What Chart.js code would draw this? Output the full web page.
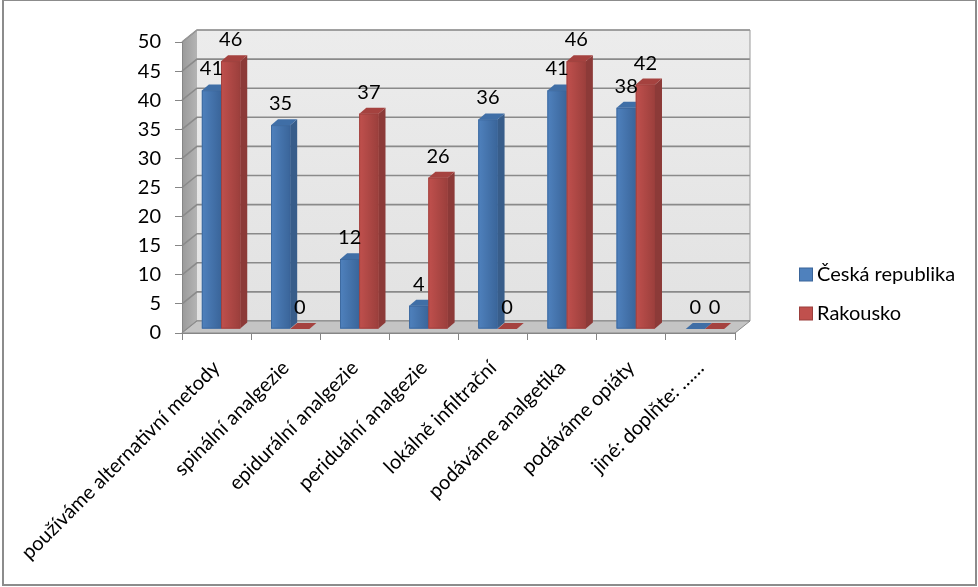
<!DOCTYPE html>
<html>
<head>
<meta charset="utf-8">
<script src="https://cdn.jsdelivr.net/npm/chart.js@4.4.0/dist/chart.umd.min.js"></script>
<style>
  html, body { margin: 0; padding: 0; background: #fff; }
  #wrap { width: 978px; height: 587px; }
</style>
</head>
<body>
<div id="wrap"><canvas id="chart" width="978" height="587"></canvas></div>
<script>
const categories = [
  "používáme alternativní metody",
  "spinální analgezie",
  "epidurální analgezie",
  "periduální analgezie",
  "lokálně infiltrační",
  "podáváme analgetika",
  "podáváme opiáty",
  "jiné: doplňte: ……",
];
const seriesNames = ["Česká republika", "Rakousko"];
const czValues = [41, 35, 12, 4, 36, 41, 38, 0];
const atValues = [46, 0, 37, 26, 0, 46, 42, 0];
const yMax = 50;
const yStep = 5;

const FONT = "Lato, 'Open Sans', sans-serif";
const FONT_SIZE = 20;

// 3D look: wall depth and bar depth (pixels)
const WALL_DX = 15, WALL_DY = -12;
const BAR_SHIFT_X = 4.5, BAR_SHIFT_Y = -4;
const BAR_DX = 7, BAR_DY = -6;

const faceColors = [
  { front: "#4f81bd", side: "#385d8a", top: "#3f6ea6", edge: "#3a659a" },
  { front: "#c0504d", side: "#8c3a38", top: "#a5423f", edge: "#9b3f3c" },
];

// walls, floor and back gridlines
const wallsPlugin = {
  id: "walls",
  beforeDraw(chart) {
    const ctx = chart.ctx;
    const { left, right, top, bottom } = chart.chartArea;
    const yScale = chart.scales.y;

    ctx.save();
    ctx.fillStyle = "#fff";
    ctx.fillRect(0, 0, chart.width, chart.height);

    // back wall
    const g = ctx.createLinearGradient(0, top + WALL_DY, 0, bottom + WALL_DY);
    g.addColorStop(0, "#ececec");
    g.addColorStop(1, "#e2e2e2");
    ctx.fillStyle = g;
    ctx.fillRect(left + WALL_DX, top + WALL_DY, right - left, bottom - top);

    // side wall
    const sg = ctx.createLinearGradient(left, 0, left + WALL_DX, 0);
    sg.addColorStop(0, "#9a9a9a");
    sg.addColorStop(1, "#b4b4b4");
    ctx.fillStyle = sg;
    ctx.beginPath();
    ctx.moveTo(left, top);
    ctx.lineTo(left + WALL_DX, top + WALL_DY);
    ctx.lineTo(left + WALL_DX, bottom + WALL_DY);
    ctx.lineTo(left, bottom);
    ctx.closePath();
    ctx.fill();

    // gridlines
    ctx.strokeStyle = "#8a8a8a";
    ctx.lineWidth = 1.6;
    yScale.ticks.forEach((t) => {
      const py = yScale.getPixelForValue(t.value);
      ctx.beginPath();
      ctx.moveTo(left, py);
      ctx.lineTo(left + WALL_DX, py + WALL_DY);
      ctx.lineTo(right + WALL_DX, py + WALL_DY);
      ctx.stroke();
    });

    // wall outline
    ctx.strokeStyle = "#9a9a9a";
    ctx.lineWidth = 1;
    ctx.beginPath();
    ctx.moveTo(left, top);
    ctx.lineTo(left + WALL_DX, top + WALL_DY);
    ctx.lineTo(right + WALL_DX, top + WALL_DY);
    ctx.lineTo(right + WALL_DX, bottom + WALL_DY);
    ctx.stroke();

    // floor
    ctx.fillStyle = "#c4c4c4";
    ctx.strokeStyle = "#8a8a8a";
    ctx.beginPath();
    ctx.moveTo(left, bottom);
    ctx.lineTo(left + WALL_DX, bottom + WALL_DY);
    ctx.lineTo(right + WALL_DX, bottom + WALL_DY);
    ctx.lineTo(right, bottom);
    ctx.closePath();
    ctx.fill();
    ctx.stroke();

    ctx.restore();
  },
  afterDraw(chart) {
    const ctx = chart.ctx;
    ctx.save();
    // outer frame
    ctx.strokeStyle = "#8c8c8c";
    ctx.lineWidth = 2;
    ctx.strokeRect(3, 0, chart.width - 5, chart.height - 2);

    // legend
    ctx.font = FONT_SIZE + "px " + FONT;
    ctx.textBaseline = "middle";
    chart.data.datasets.forEach((ds, i) => {
      const y = 268 + i * 39;
      ctx.fillStyle = faceColors[i].front;
      ctx.fillRect(799.5, y, 13, 13);
      ctx.strokeStyle = faceColors[i].edge;
      ctx.lineWidth = 1;
      ctx.strokeRect(799.5, y, 13, 13);
      ctx.fillStyle = "#000";
      ctx.fillText(ds.label, 817, y + 6.5);
    });
    ctx.restore();
  },
};

// draws bars as 3D columns with value labels
const columnsPlugin = {
  id: "columns",
  beforeDatasetsDraw(chart) {
    chart.ctx.save();
    chart.ctx.translate(BAR_SHIFT_X, BAR_SHIFT_Y);
  },
  afterDatasetsDraw(chart) {
    const ctx = chart.ctx;
    const metas = chart.data.datasets.map((_, i) => chart.getDatasetMeta(i));
    const n = chart.data.labels.length;

    for (let j = 0; j < n; j++) {
      metas.forEach((meta, i) => {
        const bar = meta.data[j];
        const c = faceColors[i];
        const x0 = bar.x - bar.width / 2;
        const x1 = bar.x + bar.width / 2;
        const yt = bar.y;
        const yb = bar.base;

        // side
        ctx.fillStyle = c.side;
        ctx.beginPath();
        ctx.moveTo(x1, yt);
        ctx.lineTo(x1 + BAR_DX, yt + BAR_DY);
        ctx.lineTo(x1 + BAR_DX, yb + BAR_DY);
        ctx.lineTo(x1, yb);
        ctx.closePath();
        ctx.fill();

        // top
        ctx.fillStyle = c.top;
        ctx.beginPath();
        ctx.moveTo(x0, yt);
        ctx.lineTo(x0 + BAR_DX, yt + BAR_DY);
        ctx.lineTo(x1 + BAR_DX, yt + BAR_DY);
        ctx.lineTo(x1, yt);
        ctx.closePath();
        ctx.fill();

        // front
        if (yb - yt > 0) {
          const fg = ctx.createLinearGradient(x0, 0, x1, 0);
          fg.addColorStop(0, c.front);
          fg.addColorStop(1, c.edge);
          ctx.fillStyle = fg;
          ctx.fillRect(x0, yt, x1 - x0, yb - yt);
          ctx.strokeStyle = c.edge;
          ctx.lineWidth = 0.8;
          ctx.strokeRect(x0 + 0.4, yt + 0.4, x1 - x0 - 0.8, yb - yt - 0.8);
        }
      });
    }

    // value labels
    ctx.font = FONT_SIZE + "px " + FONT;
    ctx.fillStyle = "#000";
    ctx.textAlign = "center";
    ctx.textBaseline = "alphabetic";
    metas.forEach((meta, i) => {
      const values = chart.data.datasets[i].data;
      meta.data.forEach((bar, j) => {
        ctx.fillText(String(values[j]), bar.x, bar.y - 15);
      });
    });

    ctx.restore();
  },
};

new Chart(document.getElementById("chart"), {
  type: "bar",
  data: {
    labels: categories,
    datasets: [
      {
        label: seriesNames[0],
        data: czValues,
        backgroundColor: faceColors[0].front,
        categoryPercentage: 0.555,
        barPercentage: 1.0,
      },
      {
        label: seriesNames[1],
        data: atValues,
        backgroundColor: faceColors[1].front,
        categoryPercentage: 0.555,
        barPercentage: 1.0,
      },
    ],
  },
  options: {
    responsive: false,
    devicePixelRatio: 1,
    animation: false,
    layout: {
      padding: { left: 0, right: 243, top: 42, bottom: 0 },
    },
    plugins: {
      legend: { display: false },
      tooltip: { enabled: false },
    },
    scales: {
      y: {
        min: 0,
        max: yMax,
        ticks: {
          stepSize: yStep,
          color: "#000",
          padding: 14,
          font: { family: FONT, size: FONT_SIZE },
        },
        grid: {
          drawOnChartArea: false,
          drawTicks: true,
          tickLength: 7,
          color: "#868686",
        },
        border: { display: true, color: "#868686", width: 1 },
        afterFit(scale) {
          scale.width = 182;
          scale.paddingTop = 0;
          scale.paddingBottom = 0;
        },
      },
      x: {
        ticks: {
          color: "#000",
          minRotation: 45,
          maxRotation: 45,
          padding: 16,
          font: { family: FONT, size: FONT_SIZE },
        },
        grid: {
          offset: true,
          drawOnChartArea: false,
          drawTicks: true,
          tickLength: 7,
          color: "#868686",
        },
        border: { display: true, color: "#868686", width: 1 },
        afterFit(scale) {
          scale.height = 254;
          scale.paddingLeft = 0;
          scale.paddingRight = 0;
        },
      },
    },
  },
  plugins: [wallsPlugin, columnsPlugin],
});
</script>
</body>
</html>
